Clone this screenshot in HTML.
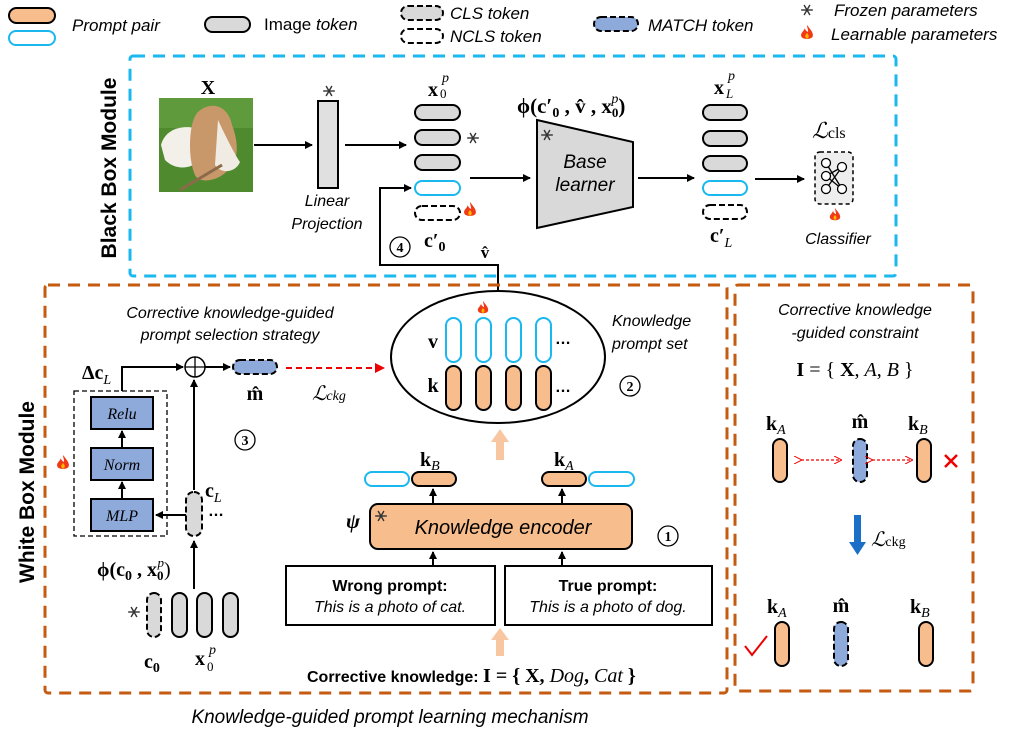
<!DOCTYPE html>
<html><head><meta charset="utf-8"><style>
html,body{margin:0;padding:0;background:#fff}
svg{display:block}
.it{font-family:"Liberation Sans",sans-serif;font-style:italic}
.sf{font-family:"Liberation Serif",serif}
.b{font-weight:bold}
.ss{font-family:"Liberation Sans",sans-serif}
</style></head><body>
<svg width="1027" height="735" viewBox="0 0 1027 735" xmlns="http://www.w3.org/2000/svg">
<defs>
<marker id="ar" markerWidth="8" markerHeight="8" refX="7" refY="4" orient="auto" markerUnits="userSpaceOnUse"><path d="M0,0 L8,4 L0,8 z" fill="#000"/></marker>
<marker id="arr" markerWidth="10" markerHeight="10" refX="9" refY="5" orient="auto" markerUnits="userSpaceOnUse"><path d="M0,0 L10,5 L0,10 z" fill="#e00"/></marker>
<marker id="ro" markerWidth="8" markerHeight="8" refX="7" refY="4" orient="auto" markerUnits="userSpaceOnUse"><path d="M0,0 L8,4 L0,8" fill="none" stroke="#e00" stroke-width="1"/></marker>
<symbol id="snow" viewBox="-6 -6 12 12"><g stroke="#333" stroke-width="1.2"><line x1="-5" y1="0" x2="5" y2="0"/><line x1="-2.5" y1="-4.3" x2="2.5" y2="4.3"/><line x1="-2.5" y1="4.3" x2="2.5" y2="-4.3"/></g></symbol>
<symbol id="fire" viewBox="-6 -7 12 14"><path d="M0,-7 C3,-3 6,0 5,3 C4,6 -4,6 -5,3 C-6,0 -3,-1 -2,-4 C-1,-2 0,-1 1,-1 C1,-3 0,-5 0,-7z" fill="#f03a17"/><path d="M0,0 C2,2 2,4 0,5 C-2,4 -2,2 0,0z" fill="#ffb400"/></symbol>
</defs>

<!-- Legend -->
<rect x="9" y="8" width="46" height="15" rx="7.5" fill="#f8bd8c" stroke="#000" stroke-width="2"/>
<rect x="9" y="31" width="46" height="14" rx="7" fill="#fff" stroke="#1ab8ef" stroke-width="2"/>
<text x="72" y="31" class="it" font-size="17">Prompt pair</text>
<rect x="205" y="17" width="45" height="15" rx="7.5" fill="#d9d9d9" stroke="#000" stroke-width="2"/>
<text x="264" y="30" class="ss" font-size="17">Image <tspan font-style="italic">token</tspan></text>
<rect x="401" y="6" width="42" height="14" rx="7" fill="#d9d9d9" stroke="#000" stroke-width="2" stroke-dasharray="6,3"/>
<rect x="401" y="29" width="42" height="14" rx="7" fill="#fff" stroke="#000" stroke-width="2" stroke-dasharray="6,3"/>
<text x="450" y="19" class="it" font-size="17">CLS token</text>
<text x="450" y="42" class="it" font-size="17">NCLS token</text>
<rect x="594" y="17" width="44" height="14" rx="7" fill="#8eaadb" stroke="#000" stroke-width="2" stroke-dasharray="6,3"/>
<text x="648" y="31" class="it" font-size="17">MATCH token</text>
<use href="#snow" x="800" y="3" width="14" height="14"/>
<use href="#fire" x="800" y="25" width="14" height="16"/>
<text x="834" y="16" class="it" font-size="17">Frozen parameters</text>
<text x="831" y="40" class="it" font-size="17">Learnable parameters</text>

<!-- Black box -->
<rect x="130" y="56" width="766" height="220" fill="none" stroke="#1ab8ef" stroke-width="3" stroke-dasharray="12,8" rx="3"/>
<text transform="translate(116,168) rotate(-90)" text-anchor="middle" class="ss b" font-size="21">Black Box Module</text>
<text x="208" y="94" text-anchor="middle" class="sf b" font-size="20">X</text>
<rect x="159" y="98" width="94" height="94" fill="#4f8a2e"/>
<rect x="159" y="98" width="94" height="30" fill="#5f9a3c"/>
<path d="M161,145 C165,130 180,125 195,128 L200,160 C190,170 175,170 165,160z" fill="#f3f0ea"/>
<path d="M197,113 C210,100 228,105 232,125 C238,140 240,160 228,170 C220,180 200,185 195,175 C188,160 188,125 197,113z" fill="#c9986a"/>
<path d="M218,120 C225,135 235,155 240,162 C236,172 222,175 215,165z" fill="#f1ece3"/>
<path d="M180,190 L222,165" stroke="#8b6a4a" stroke-width="3"/>
<line x1="254" y1="145" x2="312" y2="145" stroke="#000" stroke-width="2" marker-end="url(#ar)"/>
<rect x="318" y="101" width="20" height="87" fill="#e0e0e0" stroke="#000" stroke-width="2"/>
<use href="#snow" x="322" y="84" width="14" height="14"/>
<text x="327" y="206" text-anchor="middle" class="it" font-size="16">Linear</text>
<text x="327" y="229" text-anchor="middle" class="it" font-size="16">Projection</text>
<line x1="345" y1="145" x2="406" y2="145" stroke="#000" stroke-width="2" marker-end="url(#ar)"/>
<text x="428" y="96" class="sf b" font-size="20">x</text><text x="440" y="98" class="sf" font-size="13">0</text><text x="442" y="82" class="sf" font-style="italic" font-size="14">p</text>
<rect x="415" y="105" width="45" height="15" rx="7.5" fill="#d9d9d9" stroke="#000" stroke-width="2"/>
<rect x="415" y="130" width="45" height="15" rx="7.5" fill="#d9d9d9" stroke="#000" stroke-width="2"/>
<rect x="415" y="155" width="45" height="15" rx="7.5" fill="#d9d9d9" stroke="#000" stroke-width="2"/>
<rect x="415" y="181" width="45" height="14" rx="7" fill="#fff" stroke="#1ab8ef" stroke-width="2"/>
<rect x="415" y="206" width="45" height="14" rx="7" fill="#fff" stroke="#000" stroke-width="2" stroke-dasharray="6,3"/>
<use href="#snow" x="466" y="131" width="14" height="14"/>
<use href="#fire" x="463" y="202" width="14" height="16"/>
<text x="424" y="247" class="sf b" font-size="20">c′<tspan font-size="14" dy="4">0</tspan></text>
<circle cx="400" cy="247" r="10" fill="none" stroke="#000" stroke-width="1.3"/><text x="400" y="252" text-anchor="middle" class="sf b" font-size="14">4</text>
<text x="485" y="258" text-anchor="middle" class="sf b" font-size="17">v̂</text>
<polyline points="498,290 498,265 380,265 380,188 411,188" fill="none" stroke="#000" stroke-width="2" marker-end="url(#ar)"/>
<line x1="470" y1="178" x2="530" y2="178" stroke="#000" stroke-width="2" marker-end="url(#ar)"/>
<polygon points="537,120 633,142 633,207 537,228" fill="#d9d9d9" stroke="#000" stroke-width="2"/>
<use href="#snow" x="540" y="128" width="14" height="14"/>
<text x="585" y="168" text-anchor="middle" class="it" font-size="19">Base</text>
<text x="585" y="191" text-anchor="middle" class="it" font-size="19">learner</text>
<text x="517" y="113" class="sf b" font-size="21">ϕ(c′<tspan font-size="14" dy="4">0</tspan><tspan dy="-4"> , v̂ , x</tspan><tspan font-size="13" dy="4">0</tspan><tspan font-size="14" font-style="italic" font-weight="normal" dy="-14" dx="-7">p</tspan><tspan dy="10">)</tspan></text>
<line x1="638" y1="178" x2="694" y2="178" stroke="#000" stroke-width="2" marker-end="url(#ar)"/>
<text x="714" y="94" class="sf b" font-size="20">x</text><text x="726" y="98" class="sf" font-style="italic" font-size="13">L</text><text x="728" y="80" class="sf" font-style="italic" font-size="14">p</text>
<rect x="703" y="105" width="44" height="15" rx="7.5" fill="#d9d9d9" stroke="#000" stroke-width="2"/>
<rect x="703" y="131" width="44" height="15" rx="7.5" fill="#d9d9d9" stroke="#000" stroke-width="2"/>
<rect x="703" y="156" width="44" height="15" rx="7.5" fill="#d9d9d9" stroke="#000" stroke-width="2"/>
<rect x="703" y="181" width="44" height="14" rx="7" fill="#fff" stroke="#1ab8ef" stroke-width="2"/>
<rect x="703" y="205" width="44" height="14" rx="7" fill="#fff" stroke="#000" stroke-width="2" stroke-dasharray="6,3"/>
<text x="710" y="242" class="sf b" font-size="20">c′<tspan font-size="14" font-style="italic" font-weight="normal" dy="5">L</tspan></text>
<line x1="755" y1="179" x2="804" y2="179" stroke="#000" stroke-width="2" marker-end="url(#ar)"/>
<rect x="815" y="152" width="38" height="52" rx="5" fill="#eee" stroke="#000" stroke-width="1.5" stroke-dasharray="4,3"/>
<g fill="#fff" stroke="#000" stroke-width="1.3">
<line x1="826" y1="163" x2="842" y2="189"/><line x1="826" y1="189" x2="842" y2="167"/><line x1="826" y1="176" x2="842" y2="167"/><line x1="826" y1="176" x2="842" y2="189"/>
<circle cx="826" cy="163" r="4.5"/><circle cx="826" cy="176" r="4.5"/><circle cx="826" cy="189" r="4.5"/><circle cx="842" cy="167" r="4.5"/><circle cx="842" cy="189" r="4.5"/></g>
<text x="812" y="138" class="sf" font-style="italic" font-size="22">ℒ<tspan font-size="16" font-style="normal">cls</tspan></text>
<use href="#fire" x="829" y="208" width="12" height="14"/>
<text x="838" y="244" text-anchor="middle" class="it" font-size="16">Classifier</text>

<!-- White box -->
<rect x="45" y="285" width="682" height="408" fill="none" stroke="#c55a11" stroke-width="3" stroke-dasharray="12,8" rx="3"/>
<rect x="735" y="285" width="238" height="406" fill="none" stroke="#c55a11" stroke-width="3" stroke-dasharray="12,8" rx="3"/>
<text transform="translate(34,492) rotate(-90)" text-anchor="middle" class="ss b" font-size="21">White Box Module</text>
<text x="390" y="723" text-anchor="middle" class="it" font-size="19">Knowledge-guided prompt learning mechanism</text>

<text x="230" y="318" text-anchor="middle" class="it" font-size="16">Corrective knowledge-guided</text>
<text x="230" y="340" text-anchor="middle" class="it" font-size="16">prompt selection strategy</text>
<text x="82" y="379" class="sf b" font-size="20">Δc<tspan font-size="14" font-style="italic" font-weight="normal" dy="5">L</tspan></text>
<polyline points="122,391 122,367 183,367" fill="none" stroke="#000" stroke-width="2" marker-end="url(#ar)"/>
<circle cx="195" cy="367" r="10" fill="#fff" stroke="#000" stroke-width="1.5"/>
<line x1="185" y1="367" x2="205" y2="367" stroke="#000" stroke-width="1.3"/><line x1="195" y1="357" x2="195" y2="377" stroke="#000" stroke-width="1.3"/>
<line x1="205" y1="367" x2="230" y2="367" stroke="#000" stroke-width="2" marker-end="url(#ar)"/>
<rect x="233" y="360" width="44" height="14" rx="7" fill="#8eaadb" stroke="#000" stroke-width="2" stroke-dasharray="6,3"/>
<text x="255" y="400" text-anchor="middle" class="sf b" font-size="20">m̂</text>
<line x1="286" y1="368" x2="384" y2="368" stroke="#e00" stroke-width="2" stroke-dasharray="6,4" marker-end="url(#arr)"/>
<text x="312" y="400" class="sf" font-style="italic" font-size="20">ℒ<tspan font-size="14">ckg</tspan></text>
<rect x="74" y="391" width="93" height="145" fill="none" stroke="#000" stroke-width="1.3" stroke-dasharray="5,3"/>
<rect x="91" y="397" width="62" height="32" fill="#8eaadb" stroke="#000" stroke-width="2"/>
<rect x="91" y="448" width="62" height="32" fill="#8eaadb" stroke="#000" stroke-width="2"/>
<rect x="91" y="499" width="62" height="32" fill="#8eaadb" stroke="#000" stroke-width="2"/>
<text x="122" y="419" text-anchor="middle" class="sf" font-style="italic" font-size="16">Relu</text>
<text x="122" y="470" text-anchor="middle" class="sf" font-style="italic" font-size="16">Norm</text>
<text x="122" y="521" text-anchor="middle" class="sf" font-style="italic" font-size="16">MLP</text>
<line x1="122" y1="448" x2="122" y2="431" stroke="#000" stroke-width="2" marker-end="url(#ar)"/>
<line x1="122" y1="499" x2="122" y2="482" stroke="#000" stroke-width="2" marker-end="url(#ar)"/>
<use href="#fire" x="56" y="455" width="14" height="16"/>
<circle cx="245" cy="440" r="10" fill="none" stroke="#000" stroke-width="1.3"/><text x="245" y="445" text-anchor="middle" class="sf b" font-size="14">3</text>
<line x1="194" y1="490" x2="194" y2="380" stroke="#000" stroke-width="2" marker-end="url(#ar)"/>
<line x1="186" y1="515" x2="156" y2="515" stroke="#000" stroke-width="2" marker-end="url(#ar)"/>
<rect x="186" y="492" width="16" height="44" rx="8" fill="#d9d9d9" stroke="#000" stroke-width="2" stroke-dasharray="6,3"/>
<text x="205" y="497" class="sf b" font-size="20">c<tspan font-size="14" font-style="italic" font-weight="normal" dy="5">L</tspan></text>
<text x="208" y="516" class="ss b" font-size="16">…</text>
<line x1="194" y1="589" x2="194" y2="541" stroke="#000" stroke-width="2" marker-end="url(#ar)"/>
<text x="97" y="576" class="sf b" font-size="20">ϕ(c<tspan font-size="14" dy="4">0</tspan><tspan dy="-4"> , x</tspan><tspan font-size="13" dy="4">0</tspan><tspan font-size="13" font-style="italic" font-weight="normal" dy="-13" dx="-6">p</tspan><tspan dy="9" font-weight="normal">)</tspan></text>
<use href="#snow" x="127" y="605" width="14" height="14"/>
<rect x="147" y="593" width="14" height="44" rx="7" fill="#d9d9d9" stroke="#000" stroke-width="2" stroke-dasharray="6,3"/>
<rect x="172" y="593" width="15" height="44" rx="7.5" fill="#d9d9d9" stroke="#000" stroke-width="2"/>
<rect x="197" y="593" width="15" height="44" rx="7.5" fill="#d9d9d9" stroke="#000" stroke-width="2"/>
<rect x="223" y="593" width="15" height="44" rx="7.5" fill="#d9d9d9" stroke="#000" stroke-width="2"/>
<text x="144" y="668" class="sf b" font-size="20">c<tspan font-size="14" dy="4">0</tspan></text>
<text x="195" y="665" class="sf b" font-size="20">x</text><text x="207" y="671" class="sf" font-size="13">0</text><text x="209" y="654" class="sf" font-style="italic" font-size="14">p</text>

<!-- Ellipse -->
<ellipse cx="498" cy="357" rx="107" ry="66" fill="none" stroke="#000" stroke-width="2"/>
<g fill="#fff" stroke="#1ab8ef" stroke-width="2">
<rect x="446" y="318" width="15" height="44" rx="7.5"/><rect x="476" y="318" width="15" height="44" rx="7.5"/><rect x="506" y="318" width="15" height="44" rx="7.5"/><rect x="536" y="318" width="15" height="44" rx="7.5"/></g>
<g fill="#f8bd8c" stroke="#000" stroke-width="2">
<rect x="446" y="366" width="15" height="44" rx="7.5"/><rect x="476" y="366" width="15" height="44" rx="7.5"/><rect x="506" y="366" width="15" height="44" rx="7.5"/><rect x="536" y="366" width="15" height="44" rx="7.5"/></g>
<text x="433" y="348" text-anchor="middle" class="sf b" font-size="20">v</text>
<text x="433" y="392" text-anchor="middle" class="sf b" font-size="20">k</text>
<text x="555" y="344" class="ss b" font-size="16">…</text>
<text x="555" y="392" class="ss b" font-size="16">…</text>
<use href="#fire" x="477" y="301" width="12" height="14"/>
<text x="612" y="326" class="it" font-size="16">Knowledge</text>
<text x="612" y="349" class="it" font-size="16">prompt set</text>
<circle cx="630" cy="386" r="10" fill="none" stroke="#000" stroke-width="1.3"/><text x="630" y="391" text-anchor="middle" class="sf b" font-size="14">2</text>
<polygon points="496,460 504,460 504,442 509,442 500,429 491,442 496,442" fill="#f8c7a2"/>
<polygon points="496,656 504,656 504,640 509,640 500,628 491,640 496,640" fill="#f8c7a2"/>

<text x="420" y="466" class="sf b" font-size="20">k<tspan font-size="14" font-style="italic" font-weight="normal" dy="4">B</tspan></text>
<rect x="365" y="472" width="44" height="14" rx="7" fill="#fff" stroke="#1ab8ef" stroke-width="2"/>
<rect x="412" y="472" width="44" height="14" rx="7" fill="#f8bd8c" stroke="#000" stroke-width="2"/>
<text x="554" y="466" class="sf b" font-size="20">k<tspan font-size="14" font-style="italic" font-weight="normal" dy="4">A</tspan></text>
<rect x="542" y="472" width="44" height="14" rx="7" fill="#f8bd8c" stroke="#000" stroke-width="2"/>
<rect x="589" y="472" width="45" height="14" rx="7" fill="#fff" stroke="#1ab8ef" stroke-width="2"/>
<line x1="433" y1="503" x2="433" y2="489" stroke="#000" stroke-width="2" marker-end="url(#ar)"/>
<line x1="562" y1="503" x2="562" y2="489" stroke="#000" stroke-width="2" marker-end="url(#ar)"/>
<rect x="370" y="504" width="262" height="45" rx="8" fill="#f8bd8c" stroke="#000" stroke-width="2"/>
<text x="503" y="534" text-anchor="middle" class="it" font-size="20">Knowledge encoder</text>
<text x="346" y="528" class="sf b" font-style="italic" font-size="21">ψ</text>
<use href="#snow" x="374" y="509" width="14" height="14"/>
<circle cx="668" cy="536" r="10" fill="none" stroke="#000" stroke-width="1.3"/><text x="668" y="541" text-anchor="middle" class="sf b" font-size="14">1</text>
<line x1="433" y1="566" x2="433" y2="552" stroke="#000" stroke-width="2" marker-end="url(#ar)"/>
<line x1="562" y1="566" x2="562" y2="552" stroke="#000" stroke-width="2" marker-end="url(#ar)"/>
<rect x="286" y="566" width="209" height="59" fill="#fff" stroke="#000" stroke-width="2"/>
<rect x="505" y="566" width="207" height="59" fill="#fff" stroke="#000" stroke-width="2"/>
<text x="390" y="591" text-anchor="middle" class="ss b" font-size="16">Wrong prompt:</text>
<text x="390" y="612" text-anchor="middle" class="it" font-size="16">This is a photo of cat.</text>
<text x="608" y="591" text-anchor="middle" class="ss b" font-size="16">True prompt:</text>
<text x="608" y="612" text-anchor="middle" class="it" font-size="16">This is a photo of dog.</text>
<text x="307" y="682" class="ss b" font-size="16">Corrective knowledge: <tspan class="sf" font-size="20">I = { X, <tspan font-style="italic" font-weight="normal">Dog</tspan>, <tspan font-style="italic" font-weight="normal">Cat</tspan> }</tspan></text>

<!-- Right box -->
<text x="855" y="315" text-anchor="middle" class="it" font-size="16">Corrective knowledge</text>
<text x="855" y="338" text-anchor="middle" class="it" font-size="16">-guided constraint</text>
<text x="855" y="376" text-anchor="middle" class="sf" font-size="20"><tspan font-weight="bold">I</tspan> = { <tspan font-weight="bold">X</tspan>, <tspan font-style="italic">A</tspan>, <tspan font-style="italic">B</tspan> }</text>
<text x="766" y="430" class="sf b" font-size="20">k<tspan font-size="14" font-style="italic" font-weight="normal" dy="4">A</tspan></text>
<text x="860" y="428" text-anchor="middle" class="sf b" font-size="20">m̂</text>
<text x="908" y="430" class="sf b" font-size="20">k<tspan font-size="14" font-style="italic" font-weight="normal" dy="4">B</tspan></text>
<rect x="773" y="439" width="14" height="43" rx="7" fill="#f8bd8c" stroke="#000" stroke-width="2"/>
<rect x="853" y="439" width="14" height="43" rx="7" fill="#8eaadb" stroke="#000" stroke-width="2" stroke-dasharray="6,3"/>
<rect x="917" y="439" width="14" height="43" rx="7" fill="#f8bd8c" stroke="#000" stroke-width="2"/>
<line x1="801" y1="460" x2="841" y2="460" stroke="#e00" stroke-width="1.3" stroke-dasharray="3,2" marker-end="url(#ro)" marker-start="url(#ro)"/>
<line x1="872" y1="460" x2="912" y2="460" stroke="#e00" stroke-width="1.3" stroke-dasharray="3,2" marker-end="url(#ro)" marker-start="url(#ro)"/>
<path d="M945,455 L957,467 M957,455 L945,467" stroke="#e00" stroke-width="2.5"/>
<polygon points="854,515 861,515 861,542 866,542 857.5,555 849,542 854,542" fill="#1b6fc6"/>
<text x="871" y="546" class="sf" font-style="italic" font-size="20">ℒ<tspan font-size="14" font-style="normal">ckg</tspan></text>
<text x="767" y="613" class="sf b" font-size="20">k<tspan font-size="14" font-style="italic" font-weight="normal" dy="4">A</tspan></text>
<text x="841" y="612" text-anchor="middle" class="sf b" font-size="20">m̂</text>
<text x="910" y="613" class="sf b" font-size="20">k<tspan font-size="14" font-style="italic" font-weight="normal" dy="4">B</tspan></text>
<rect x="775" y="622" width="14" height="44" rx="7" fill="#f8bd8c" stroke="#000" stroke-width="2"/>
<rect x="834" y="622" width="14" height="44" rx="7" fill="#8eaadb" stroke="#000" stroke-width="2" stroke-dasharray="6,3"/>
<rect x="919" y="622" width="14" height="44" rx="7" fill="#f8bd8c" stroke="#000" stroke-width="2"/>
<path d="M745,646 L752,655 L767,636" fill="none" stroke="#e00" stroke-width="2"/>
</svg>
</body></html>
